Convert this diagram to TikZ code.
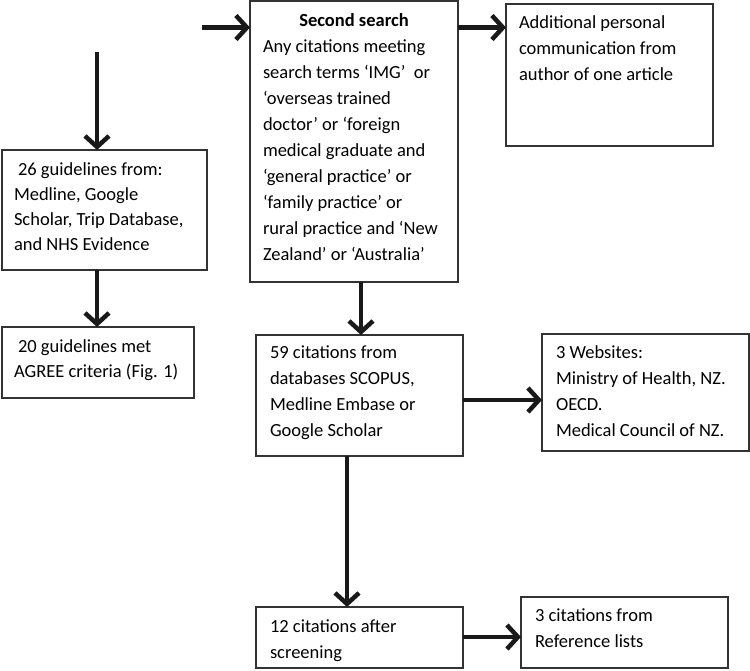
\documentclass[tikz,border=0pt]{standalone}
\usepackage{fontspec}
\setmainfont{Carlito}
\usetikzlibrary{arrows.meta,calc}
\begin{document}
\begin{tikzpicture}[x=1pt,y=-1pt,
  box/.style={draw=black!80, line width=1.3pt, anchor=north west, inner sep=0pt, outer sep=0pt},
  txt/.style={anchor=base west, inner sep=0pt, outer sep=0pt, font=\fontsize{18.5}{26}\selectfont},
  arr/.style={line width=4.5pt, draw=black!90, -{Straight Barb[length=11pt,width=24pt]}}]
\useasboundingbox (0,0) rectangle (750,670);
% boxes
\node[box, minimum width=205pt, minimum height=120pt] (a) at (2,150) {};
\node[box, minimum width=192pt, minimum height=71pt] (b) at (2,327) {};
\node[box, minimum width=208pt, minimum height=281pt] (c) at (250,1) {};
\node[box, minimum width=207pt, minimum height=142pt] (d) at (506,4) {};
\node[box, minimum width=207pt, minimum height=121pt] (e) at (256,335) {};
\node[box, minimum width=207pt, minimum height=117pt] (f) at (542,334) {};
\node[box, minimum width=207pt, minimum height=61pt] (g) at (256,607) {};
\node[box, minimum width=207pt, minimum height=71pt] (h) at (521,597) {};
% texts
\node[txt, font=\fontsize{18.5}{25}\selectfont] (ta) at ($(a.north west)+(12,25)$) {\parbox[t]{195pt}{\hspace{4pt}26 guidelines from:\\Medline, Google\\Scholar, Trip Database,\\and NHS Evidence}};
\node[txt, font=\fontsize{18.5}{25}\selectfont] (tb) at ($(b.north west)+(12,25)$) {\parbox[t]{185pt}{\hspace{4pt}20 guidelines met\\AGREE criteria (Fig. 1)}};
\node[txt] (tc) at ($(c.north west)+(13,25)$) {\parbox[t]{195pt}{\makebox[182pt][c]{\textbf{Second search}}\\Any citations meeting\\search terms ‘IMG’\ \ or\\‘overseas trained\\doctor’ or ‘foreign\\medical graduate and\\‘general practice’ or\\‘family practice’ or\\rural practice and ‘New\\Zealand’ or ‘Australia’}};
\node[txt] (td) at ($(d.north west)+(13,24)$) {\parbox[t]{195pt}{Additional personal\\communication from\\author of one article}};
\node[txt] (te) at ($(e.north west)+(14,23)$) {\parbox[t]{195pt}{59 citations from\\databases SCOPUS,\\Medline Embase or\\Google Scholar}};
\node[txt] (tf) at ($(f.north west)+(14,24)$) {\parbox[t]{195pt}{3 Websites:\\Ministry of Health, NZ.\\OECD.\\Medical Council of NZ.}};
\node[txt] (tg) at ($(g.north west)+(14,25)$) {\parbox[t]{195pt}{12 citations after\\screening}};
\node[txt] (th) at ($(h.north west)+(14,24)$) {\parbox[t]{195pt}{3 citations from\\Reference lists}};
% connector helpers
\coordinate (s1) at (202,27.5);
\coordinate (s2) at (97,52);
\coordinate (xce) at (361,0);
\coordinate (yef) at (0,400);
\coordinate (xeg) at (347,0);
\coordinate (ygh) at (0,637);
% connectors
\draw[arr] (s1) -- (s1 -| c.west);
\draw[arr] (c.east |- s1) -- (d.west |- s1);
\draw[arr] (s2) -- (s2 |- a.north);
\draw[arr] (a.south -| s2) -- (b.north -| s2);
\draw[arr] (c.south -| xce) -- (e.north -| xce);
\draw[arr] (e.east |- yef) -- (f.west |- yef);
\draw[arr] (e.south -| xeg) -- (g.north -| xeg);
\draw[arr] (g.east |- ygh) -- (h.west |- ygh);
\end{tikzpicture}
\end{document}
